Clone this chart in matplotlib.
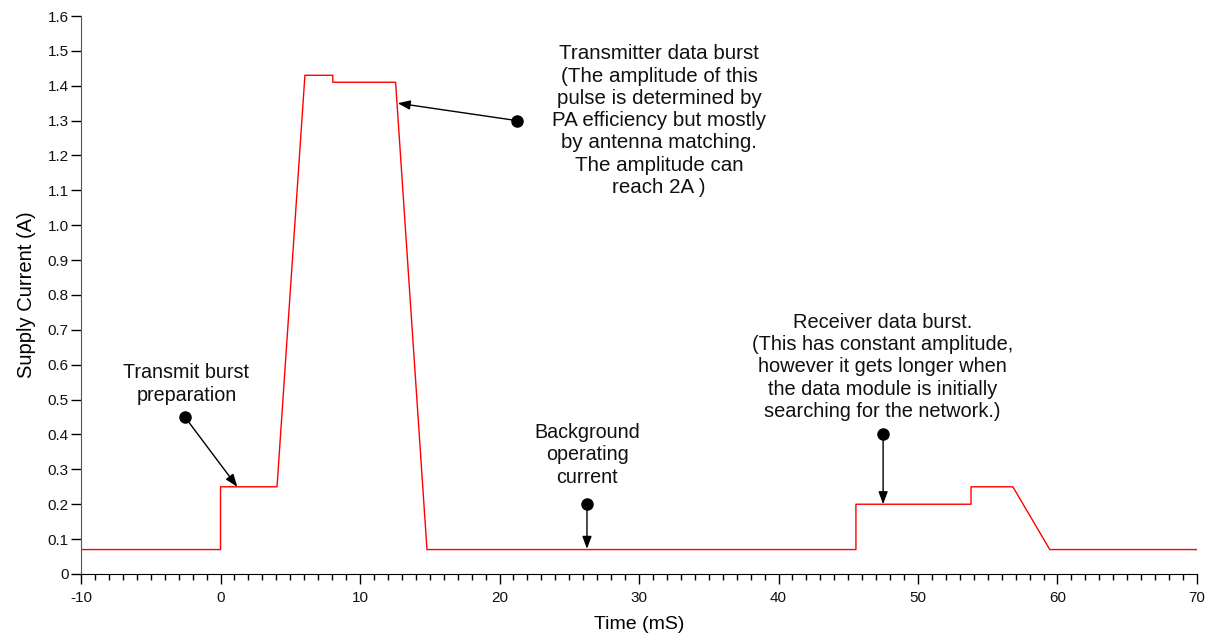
import matplotlib
matplotlib.use("Agg")
import matplotlib.pyplot as plt
from matplotlib.ticker import MultipleLocator, FuncFormatter

plt.rcParams['font.family'] = ['Liberation Sans', 'DejaVu Sans']
plt.rcParams['axes.unicode_minus'] = False

# Data: supply current waveform
time_ms = [-10, 0, 0, 4.05, 6.05, 8.05, 8.05, 12.55, 14.8, 45.55, 45.55, 53.8, 53.8, 56.8, 59.45, 70]
current_a = [0.07, 0.07, 0.25, 0.25, 1.43, 1.43, 1.41, 1.41, 0.07, 0.07, 0.20, 0.20, 0.25, 0.25, 0.07, 0.07]

# Annotations: text, text position, dot position, arrow tip
ann_texts = [
    "Transmit burst\npreparation",
    "Transmitter data burst\n(The amplitude of this\npulse is determined by\nPA efficiency but mostly\nby antenna matching.\nThe amplitude can\nreach 2A )",
    "Background\noperating\ncurrent",
    "Receiver data burst.\n(This has constant amplitude,\nhowever it gets longer when\nthe data module is initially\nsearching for the network.)",
]
ann_sizes = [14.2, 14.8, 14.2, 14.4]
ann_text_xy = [(-2.44, 0.545), (31.45, 1.30), (26.3, 0.342), (47.45, 0.594)]
ann_dot_xy = [(-2.55, 0.45), (21.25, 1.30), (26.27, 0.20), (47.5, 0.40)]
ann_tip_xy = [(1.2, 0.25), (12.7, 1.35), (26.27, 0.072), (47.5, 0.20)]

fig = plt.figure(figsize=(12.13, 6.35), dpi=100)
ax = fig.add_axes([0.0668, 0.0961, 0.92, 0.8787])

ax.plot(time_ms, current_a, color='#ff0000', lw=1.0)

ax.set_xlim(-10, 70)
ax.set_ylim(0, 1.6)
ax.xaxis.set_major_locator(MultipleLocator(10))
ax.xaxis.set_minor_locator(MultipleLocator(1))
ax.yaxis.set_major_locator(MultipleLocator(0.1))
ax.yaxis.set_major_formatter(FuncFormatter(lambda v, p: "0" if abs(v) < 1e-9 else f"{v:.1f}"))

for s in ['top', 'right']:
    ax.spines[s].set_visible(False)
ax.spines['left'].set_color('#555555')
ax.spines['bottom'].set_color('#000000')
ax.tick_params(axis='both', which='major', direction='out', length=7, width=1, labelsize=11, colors='#000000', labelcolor='#111111')
ax.tick_params(axis='x', which='minor', direction='out', length=4, width=1)
ax.tick_params(axis='y', which='major', pad=2)
ax.tick_params(axis='x', which='major', pad=5)

ax.set_xlabel("Time (mS)", fontsize=14, labelpad=8)
ax.set_ylabel("Supply Current (A)", fontsize=14.5, labelpad=8)

for txt, fs, txy, dxy, pxy in zip(ann_texts, ann_sizes, ann_text_xy, ann_dot_xy, ann_tip_xy):
    ax.text(txy[0], txy[1], txt, ha='center', va='center', fontsize=fs,
            linespacing=1.22, color='#111111')
    ax.plot([dxy[0]], [dxy[1]], 'o', color='black', ms=8)
    ax.annotate("", xy=pxy, xytext=dxy,
                arrowprops=dict(arrowstyle='-|>,head_length=0.75,head_width=0.28',
                                color='black', lw=1.0, shrinkA=0, shrinkB=0))

fig.savefig("out.png", dpi=100)
